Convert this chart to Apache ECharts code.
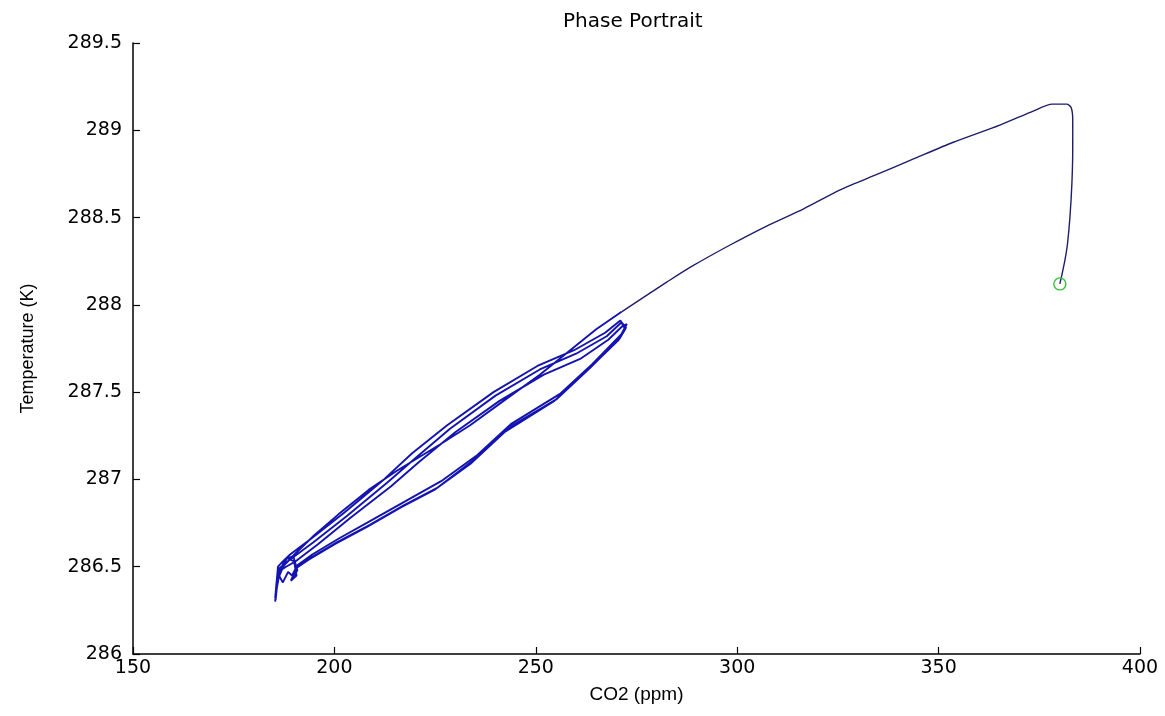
<!DOCTYPE html>
<html>
<head>
<meta charset="utf-8">
<script src="https://cdn.jsdelivr.net/npm/echarts@6/dist/echarts.min.js"></script>
<style>html,body{margin:0;padding:0;background:#fff;}#c{width:1165px;height:716px;}</style>
</head>
<body>
<div id="c"></div>
<script>
// Trajectory: CO2 (ppm) and temperature (K), in drawing order.
// Part 1: from the start (green circle) over the peak and down to the loop.
var curveCO2 = [
  380.1, 380.5, 381.4, 382.0, 382.6, 383.1, 383.3, 383.3, 382.9, 381.8, 378.2, 373.5, 365.2, 353.5, 344.2, 335.0, 325.7, 316.5, 307.2, 298.0, 288.7, 282.5, 277.2, 271.3
];
var curveTemp = [
  288.12, 288.16, 288.26, 288.35, 288.50, 288.70, 288.90, 289.06, 289.13, 289.15, 289.15, 289.11, 289.03, 288.93, 288.84, 288.75, 288.66, 288.55, 288.45, 288.34, 288.22, 288.13, 288.05, 287.96
];
// Part 2: the oscillating loop between about 185 and 273 ppm.
var loopCO2 = [
  271.3, 265.0, 258.0, 251.0, 242.0, 233.7, 226.2, 215.5, 208.5, 201.0, 195.0, 190.5, 188.0, 186.2, 185.6, 185.3,
  186.0, 187.2, 188.5, 189.5,
  190.6, 194.0, 200.6, 208.8, 217.1, 225.4, 234.5, 242.8, 255.2, 263.5, 270.9, 272.4,
  271.3, 267.6, 260.0, 251.0, 240.0, 228.7, 220.0, 213.0, 203.1, 194.8, 189.5, 187.8, 186.3, 185.9, 185.5, 186.2, 188.2, 190.0, 190.6, 189.2,
  190.9, 194.5, 201.0, 209.5, 218.0, 226.5, 235.5, 244.0, 256.0, 264.0, 271.2, 272.6,
  271.6, 268.0, 261.0, 252.0, 241.0, 230.0, 221.0, 214.0, 204.0, 196.0, 190.3, 188.0, 186.0, 185.4, 185.9, 187.6, 189.8, 190.8, 189.6,
  190.4, 193.6, 200.2, 208.2, 216.5, 224.8, 233.8, 242.2, 254.6, 263.0, 270.6, 272.2,
  271.0, 267.2, 259.5, 250.4, 239.5, 228.0, 219.3, 212.3, 202.5, 194.2, 189.0, 187.2, 186.0, 185.6, 185.3
];
var loopTemp = [
  287.96, 287.86, 287.73, 287.60, 287.45, 287.31, 287.20, 287.05, 286.94, 286.80, 286.68, 286.58, 286.52, 286.47, 286.40, 286.32,
  286.46, 286.41, 286.47, 286.45,
  286.50, 286.55, 286.64, 286.74, 286.85, 286.95, 287.11, 287.29, 287.46, 287.64, 287.81, 287.87,
  287.90, 287.82, 287.72, 287.63, 287.48, 287.29, 287.12, 286.98, 286.79, 286.64, 286.55, 286.52, 286.49, 286.46, 286.35, 286.44, 286.55, 286.53, 286.45, 286.42,
  286.51, 286.57, 286.66, 286.77, 286.88, 286.99, 287.14, 287.32, 287.49, 287.66, 287.83, 287.89,
  287.88, 287.80, 287.69, 287.60, 287.45, 287.27, 287.10, 286.96, 286.78, 286.63, 286.53, 286.50, 286.47, 286.31, 286.42, 286.54, 286.56, 286.48, 286.43,
  286.49, 286.54, 286.63, 286.73, 286.84, 286.94, 287.09, 287.27, 287.45, 287.63, 287.80, 287.86,
  287.91, 287.84, 287.74, 287.65, 287.50, 287.31, 287.15, 287.00, 286.81, 286.66, 286.57, 286.53, 286.50, 286.40, 286.30
];
// Start marker (green circle)
var startCO2 = [380.1];
var startTemp = [288.12];

var xTicks = [150, 200, 250, 300, 350, 400];
var yTicks = [286, 286.5, 287, 287.5, 288, 288.5, 289, 289.5];

function zip(a, b) { return a.map(function (v, i) { return [v, b[i]]; }); }

var chart = echarts.init(document.getElementById('c'), null, { renderer: 'canvas' });
chart.setOption({
  animation: false,
  backgroundColor: '#ffffff',
  title: {
    text: 'Phase Portrait',
    left: 558,
    top: 7,
    textStyle: { fontFamily: 'DejaVu Sans', fontSize: 20, fontWeight: 'normal', color: '#000' }
  },
  grid: { left: 133, right: 25, top: 43, bottom: 62 },
  xAxis: {
    type: 'value',
    min: xTicks[0], max: xTicks[xTicks.length - 1], interval: 50,
    name: 'CO2 (ppm)',
    nameLocation: 'middle',
    nameGap: 31,
    nameTextStyle: { fontFamily: 'Liberation Sans', fontSize: 19, color: '#000' },
    axisLine: { show: true, lineStyle: { color: '#000', width: 1.5 } },
    axisTick: { show: true, inside: true, length: 7, lineStyle: { color: '#000', width: 1.2 } },
    axisLabel: { margin: 5, fontFamily: 'DejaVu Sans', fontSize: 19, color: '#000' },
    splitLine: { show: false }
  },
  yAxis: {
    type: 'value',
    min: yTicks[0], max: yTicks[yTicks.length - 1], interval: 0.5,
    name: 'Temperature (K)',
    nameLocation: 'middle',
    nameGap: 96,
    nameTextStyle: { fontFamily: 'Liberation Sans', fontSize: 18, color: '#000' },
    axisLine: { show: true, lineStyle: { color: '#000', width: 1.5 } },
    axisTick: { show: true, inside: true, length: 7, lineStyle: { color: '#000', width: 1.2 } },
    axisLabel: { margin: 11, fontFamily: 'DejaVu Sans', fontSize: 19, color: '#000' },
    splitLine: { show: false }
  },
  series: [
    {
      type: 'line',
      data: zip(curveCO2, curveTemp),
      showSymbol: false,
      symbol: 'none',
      smooth: 0.25,
      lineStyle: { color: '#1d1d6c', width: 1.4 },
      z: 2
    },
    {
      type: 'line',
      data: zip(loopCO2, loopTemp),
      showSymbol: false,
      symbol: 'none',
      lineStyle: { color: '#1414b0', width: 1.9 },
      z: 2
    },
    {
      type: 'scatter',
      data: zip(startCO2, startTemp),
      symbol: 'circle',
      symbolSize: 12,
      itemStyle: { color: 'rgba(255,255,255,0)', borderColor: '#35c435', borderWidth: 1.4, opacity: 1 },
      z: 5
    }
  ]
});
</script>
</body>
</html>
